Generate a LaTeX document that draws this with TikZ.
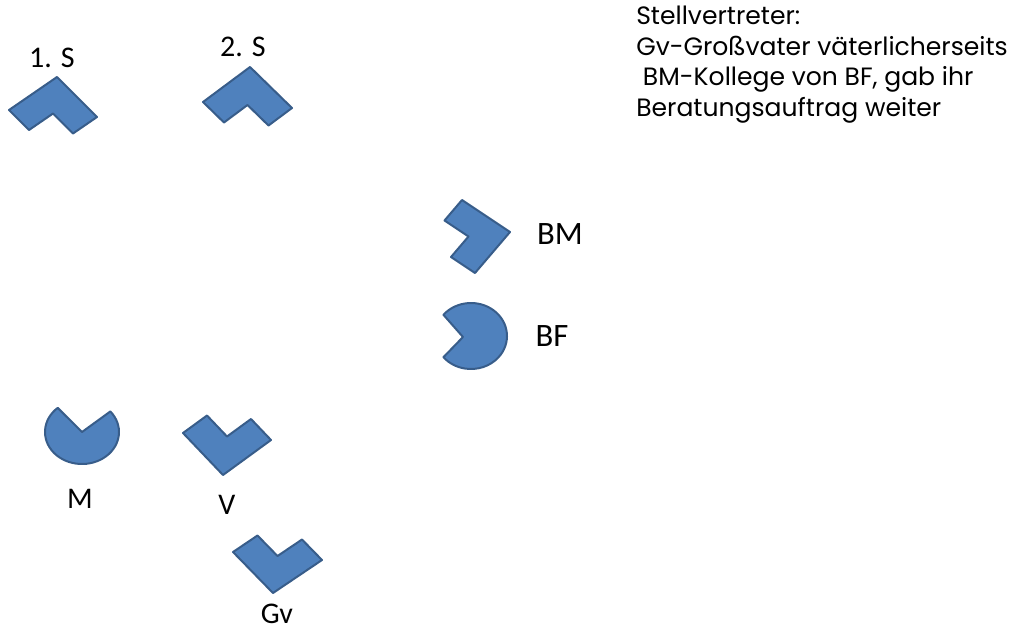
\documentclass[tikz,border=0pt]{standalone}
\usepackage{fontspec}
\usetikzlibrary{calc}
\setmainfont{Carlito}
\newfontfamily\gothic{Poppins}
\definecolor{symfill}{HTML}{4F81BD}
\definecolor{symline}{HTML}{385D8A}
\begin{document}
\begin{tikzpicture}[x=0.75pt,y=-0.75pt,
  sym/.style={fill=symfill,draw=symline,line width=1.5pt,line join=round},
  lbl/.style={inner sep=0pt,font=\fontsize{22.5}{26}\selectfont},
  biglbl/.style={inner sep=0pt,font=\fontsize{24.5}{28}\selectfont},
  legend/.style={inner sep=0pt,anchor=base west,font=\gothic\fontsize{18.8}{22}\selectfont}]
\useasboundingbox (0,0) rectangle (1011,633);
% 1. S
\draw[sym] (57,77) -- (97,117) -- (73,133.5) -- (53,113.5) -- (29,130) -- (9,110) -- cycle;
\node[lbl] (s1) at (52,58) {1. S};
% 2. S
\draw[sym] (250,67) -- (292,108) -- (268.5,125.5) -- (247.5,105) -- (224,122.5) -- (203,102) -- cycle;
\node[lbl] (s2) at (243,47) {2. S};
% BM
\draw[sym] (462,200) -- (510,232) -- (475,273) -- (451,257) -- (468.5,236.5) -- (444.5,220.5) -- cycle;
\node[biglbl] (bm) at (560,234) {BM};
% BF
\draw[sym] (463,337) -- ($(471,336)+(-140:36 and 33)$) arc[start angle=-140,end angle=140,x radius=36,y radius=33] -- cycle;
\node[biglbl] (bf) at (552,336) {BF};
% M
\draw[sym] (82,432) -- ($(82,432)+(-131:37 and 32)$) arc[start angle=-131,end angle=-400,x radius=37,y radius=32] -- cycle;
\node[lbl] (m) at (80,499) {M};
% V
\draw[sym] (223,475) -- (183,433) -- (207,415.5) -- (227,436.5) -- (251,419) -- (271,440) -- cycle;
\node[lbl] (v) at (227,505) {V};
% Gv
\draw[sym] (273,593) -- (233,552) -- (257.5,535.5) -- (277.5,556) -- (302,539.5) -- (322,560) -- cycle;
\node[lbl] (gv) at (277,614) {Gv};
% legend
\node[legend] (t1) at (636,24) {Stellvertreter:};
\node[legend] (t2) at (636,55) {Gv-Großvater väterlicherseits};
\node[legend] (t3) at (636,85) {\ BM-Kollege von BF, gab ihr};
\node[legend] (t4) at (636,116) {Beratungsauftrag weiter};
\end{tikzpicture}
\end{document}
